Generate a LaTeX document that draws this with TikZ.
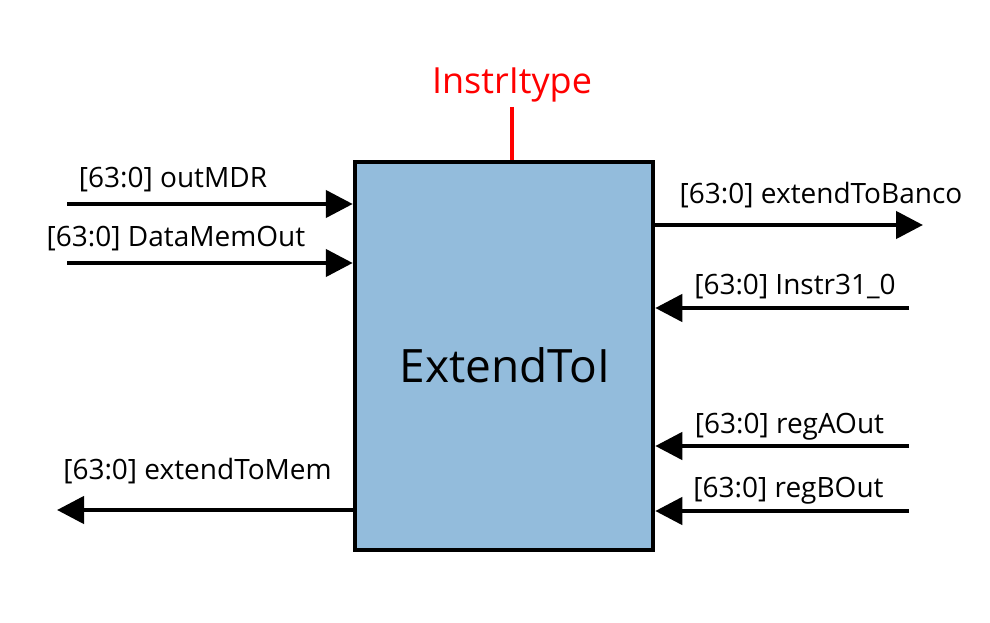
\documentclass[tikz,border=0pt]{standalone}
\usepackage{fontspec}
\setmainfont{Open Sans}
\usetikzlibrary{arrows.meta,calc}
\definecolor{boxblue}{HTML}{93BCDC}
\begin{document}
\begin{tikzpicture}[x=1pt,y=-1pt,
  sig/.style={line width=4.5pt,-{Triangle[length=27pt,width=27pt]}},
  lbl/.style={font=\fontsize{28}{32}\selectfont,inner sep=0pt,anchor=base},
  blockbox/.style={draw,line width=4.5pt,fill=boxblue,minimum width=298pt,minimum height=388pt,inner sep=0pt}]
\useasboundingbox (0,0) rectangle (990,623);
\node[blockbox] (box) at (504,356) {};
\node[font=\fontsize{46}{52}\selectfont,inner sep=0pt,anchor=base] (title) at (505,382) {ExtendToI};
% control input
\node[lbl,text=red,font=\fontsize{36}{40}\selectfont] (ctl) at (512,94) {InstrItype};
\coordinate (ctlend) at (512,107);
\draw[red,line width=4.5pt] (ctlend) -- (ctlend |- box.north);
% left inputs
\coordinate (inA) at (67,204);
\coordinate (inB) at (67,263);
\draw[sig] (inA) -- (inA -| box.west);
\draw[sig] (inB) -- (inB -| box.west);
\node[lbl] (lA) at (173,187) {[63:0] outMDR};
\node[lbl] (lB) at (176,246) {[63:0] DataMemOut};
% left output
\coordinate (outM) at (57,510);
\draw[sig] (outM -| box.west) -- (outM);
\node[lbl] (lM) at (197.5,479) {[63:0] extendToMem};
% right output
\coordinate (outB) at (923,225);
\draw[sig] (outB -| box.east) -- (outB);
\node[lbl] (lOB) at (821,203) {[63:0] extendToBanco};
% right inputs
\coordinate (inI) at (909,308);
\coordinate (inRA) at (909,446);
\coordinate (inRB) at (909,511);
\draw[sig] (inI) -- (inI -| box.east);
\draw[sig] (inRA) -- (inRA -| box.east);
\draw[sig] (inRB) -- (inRB -| box.east);
\node[lbl] (lI) at (795,294) {[63:0] Instr31\_0};
\node[lbl] (lRA) at (789.5,433) {[63:0] regAOut};
\node[lbl] (lRB) at (788.5,497) {[63:0] regBOut};
\end{tikzpicture}
\end{document}
